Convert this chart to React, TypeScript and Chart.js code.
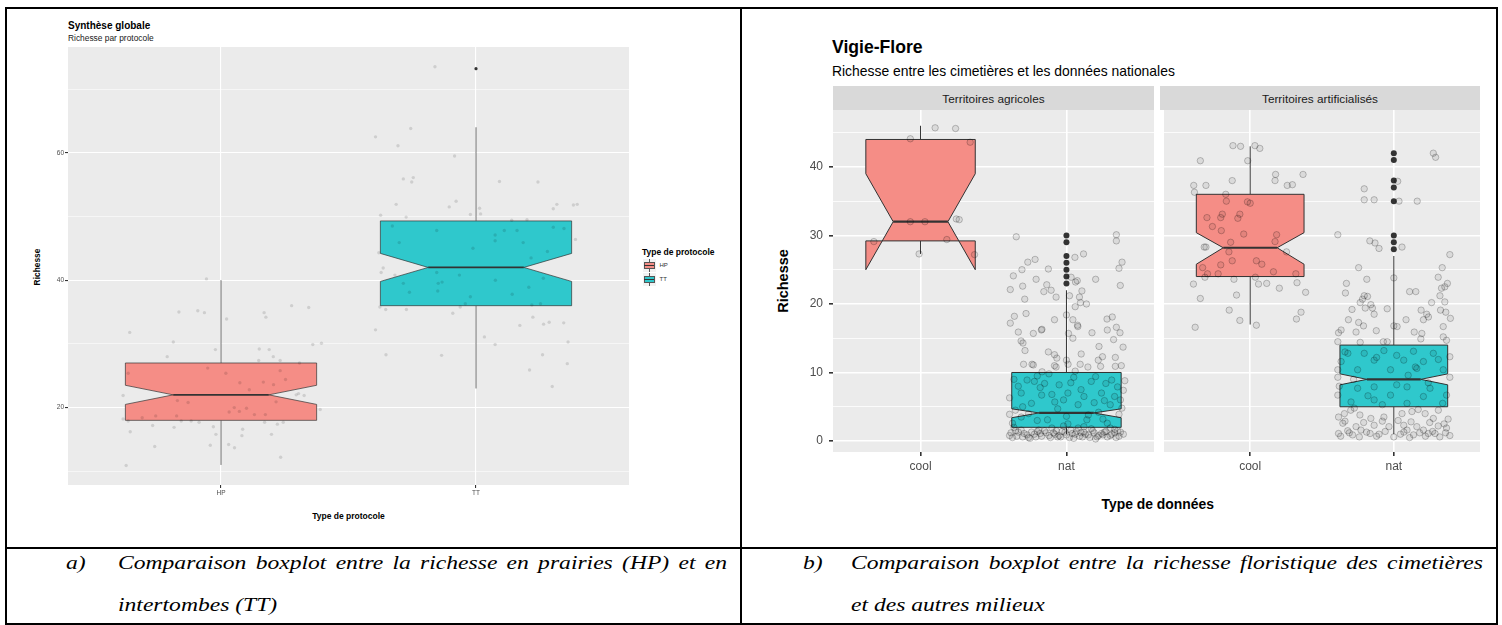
import React, { useEffect, useRef } from "react";
import { Chart, registerables } from "chart.js";

Chart.register(...registerables);

// ---------------- Panel a) : Synthèse globale ----------------
const protocolCategories = ["HP", "TT"];
const protocolYGrid = [10, 20, 30, 40, 50, 60, 70];
const protocolYLabels = [20, 40, 60];
// [whisker low, Q1, notch low, median, notch high, Q3, whisker high]
const hpBoxStats = [11, 18, 20.5, 22, 23.5, 27, 40];
const ttBoxStats = [23, 36, 39.8, 42, 44.2, 49.3, 64];
const hpOutliers: number[] = [];
const ttOutliers = [73.2];
// jitter points: [offset from category, richesse]
const hpJitter = [
  [-0.057, 40.2], [-0.165, 35.0], [-0.091, 35.2], [-0.065, 34.9], [0.022, 33.9], [0.169, 34.9],
  [0.176, 34.2], [0.277, 36.0], [0.344, 35.7], [-0.358, 31.8], [-0.187, 30.3], [-0.022, 29.1],
  [-0.211, 28.0], [0.15, 29.2], [0.189, 29.1], [0.205, 28.0], [0.36, 29.9], [0.394, 30.1],
  [0.148, 27.4], [0.232, 27.4], [0.308, 27.0], [-0.052, 26.2], [0.019, 25.4], [0.232, 25.8],
  [0.074, 23.9], [0.166, 24.0], [0.206, 23.6], [0.253, 24.4], [0.111, 22.8], [-0.364, 25.4],
  [-0.384, 21.9], [0.295, 22.0], [0.304, 22.2], [0.326, 21.9], [-0.171, 21.1], [-0.129, 20.8],
  [0.216, 20.9], [0.052, 20.0], [0.1, 19.9], [0.032, 19.3], [0.072, 19.4], [0.389, 19.7],
  [0.131, 18.9], [0.174, 18.9], [-0.256, 18.7], [-0.174, 18.7], [-0.384, 18.2], [-0.364, 17.9],
  [-0.309, 18.4], [-0.156, 17.9], [-0.117, 17.9], [-0.086, 17.7], [0.171, 17.7], [0.221, 17.4],
  [0.244, 17.7], [-0.268, 17.2], [-0.184, 16.9], [-0.03, 17.0], [-0.356, 16.2], [-0.02, 15.8],
  [0.085, 16.6], [0.082, 15.6], [0.198, 15.8], [-0.26, 13.9], [-0.042, 14.1], [0.03, 14.2],
  [0.053, 13.7], [0.234, 12.2], [-0.372, 10.9],
];
const ttJitter = [
  [-0.161, 73.5], [-0.256, 63.8], [-0.394, 62.5], [-0.306, 61.1], [-0.084, 59.5], [-0.285, 55.9],
  [-0.246, 56.1], [-0.252, 55.4], [0.092, 55.5], [0.243, 55.4], [-0.313, 51.9], [-0.078, 52.4],
  [-0.105, 51.5], [0.014, 51.3], [0.018, 50.4], [-0.022, 50.3], [0.317, 51.9], [0.303, 51.2],
  [0.382, 51.8], [0.397, 51.9], [-0.374, 50.2], [-0.274, 49.9], [0.14, 49.4], [0.2, 49.5],
  [-0.328, 48.5], [-0.154, 47.8], [0.075, 47.1], [0.075, 46.2], [0.111, 47.8], [0.161, 47.8],
  [0.185, 45.9], [0.303, 48.3], [0.345, 48.1], [0.39, 46.4], [-0.301, 45.9], [-0.012, 45.0],
  [0.28, 44.5], [0.216, 43.5], [-0.381, 44.3], [-0.364, 41.9], [-0.372, 41.2], [-0.318, 40.8],
  [-0.154, 41.2], [-0.065, 40.8], [-0.148, 39.5], [-0.133, 39.7], [-0.285, 39.5], [-0.15, 38.3],
  [-0.261, 38.1], [0.076, 40.0], [0.142, 37.8], [0.207, 38.9], [0.264, 40.3], [-0.022, 37.4],
  [-0.042, 36.3], [-0.377, 35.8], [-0.354, 35.4], [-0.273, 35.4], [-0.062, 35.8], [0.219, 36.1],
  [0.253, 36.3], [-0.394, 32.2], [-0.091, 34.8], [0.033, 31.1], [0.075, 29.9], [0.172, 32.9],
  [0.223, 34.2], [0.265, 33.1], [0.287, 33.4], [0.344, 33.3], [0.361, 30.3], [-0.353, 28.3],
  [-0.135, 28.2], [0.261, 28.3], [0.358, 26.9], [0.21, 25.9], [0.299, 23.3],
];

// ---------------- Panel b) : Vigie-Flore ----------------
const dataTypeCategories = ["cool", "nat"];
const facetNames = ["Territoires agricoles", "Territoires artificialisés"];
const vigieYGrid = [0, 5, 10, 15, 20, 25, 30, 35, 40, 45];
const vigieYLabels = [0, 10, 20, 30, 40];
const agriCoolBoxStats = [27.3, 29.2, 25.0, 32.0, 39.0, 44.0, 46.0];
const agriNatBoxStats = [1, 2, 3.4, 4.1, 4.7, 10, 22];
const artCoolBoxStats = [17, 24, 25.8, 28.2, 30.4, 36, 43];
const artNatBoxStats = [1, 5, 8.2, 9, 9.8, 14, 27];
const agriCoolOutliers: number[] = [];
const agriNatOutliers = [23, 24, 25, 26, 27, 29, 30];
const artCoolOutliers: number[] = [];
const artNatOutliers = [28, 29, 30, 35, 37, 38, 41, 42];
const agriCoolJitter = [
  [0.1, 45.7], [0.24, 45.6], [-0.07, 44.1], [0.34, 43.6], [0.245, 32.4], [0.265, 32.3],
  [-0.07, 32.0], [0.03, 32.0], [-0.01, 27.3], [0.18, 29.4], [-0.32, 29.1], [0.37, 27.2],
];
const agriNatJitter = [
  [-0.344, 29.8], [0.342, 30.1], [0.342, 29.2], [0.117, 27.3], [0.058, 26.8], [-0.215, 26.5],
  [-0.265, 26.1], [0.381, 26.1], [-0.364, 24.1], [-0.305, 25.0], [-0.124, 25.1], [0.36, 25.2],
  [-0.208, 23.6], [0.032, 23.9], [0.062, 23.2], [0.074, 23.4], [0.2, 23.6], [0.369, 22.7],
  [-0.385, 22.1], [-0.3, 22.6], [-0.135, 22.8], [-0.155, 21.8], [-0.105, 22.0], [-0.071, 21.0],
  [0.021, 21.2], [0.106, 21.9], [0.089, 21.0], [0.096, 20.2], [0.06, 19.6], [0.137, 20.0],
  [-0.286, 20.7], [-0.357, 18.2], [-0.385, 17.2], [-0.277, 18.6], [-0.082, 17.7], [0, 18.4],
  [0.044, 17.7], [0.076, 16.9], [0.078, 16.7], [0.278, 17.8], [0.314, 18.1], [0.342, 16.6],
  [0.367, 15.8], [0.28, 16.2], [-0.33, 15.9], [-0.227, 15.7], [-0.172, 16.2], [-0.168, 16.3],
  [0.014, 15.7], [0.044, 15.0], [0.175, 15.8], [0.323, 14.8], [-0.311, 14.6], [-0.298, 14.3],
  [-0.284, 13.2], [0.388, 13.7], [0.223, 13.8], [-0.124, 13.0], [-0.082, 12.6], [-0.066, 12.1],
  [0.101, 12.7], [0, 11.8], [0.218, 11.8], [0.247, 12.3], [0.335, 12.2], [-0.294, 11.2],
  [-0.236, 11.2], [-0.227, 11.1], [-0.082, 11.0], [-0.071, 10.8], [0.011, 11.2], [0.094, 11.2],
  [0.147, 10.8], [0.234, 10.9], [0.335, 10.9], [0.376, 11.0], [-0.167, 10.1], [0.06, 10.2],
  [-0.27, 8.9], [-0.22, 8.7], [-0.15, 8.4], [-0.05, 8.2], [0.17, 8.7], [0.27, 8.4], [0.35, 7.9],
  [-0.31, 7.0], [-0.17, 6.7], [0.01, 7.0], [0.12, 6.5], [0.24, 7.0], [0.33, 6.5], [-0.39, 6.3],
  [0.39, 7.4], [0.4, 8.8], [-0.24, 5.5], [-0.08, 5.7], [0.08, 5.3], [0.19, 5.6], [0.3, 5.3],
  [-0.39, 3.9], [-0.31, 3.5], [-0.13, 3.1], [0.14, 3.1], [0.36, 3.9], [-0.37, 2.6], [0.01, 2.5],
  [0.28, 2.6], [-0.2, 9.5], [0.05, 9.3], [-0.35, 4.5], [0.22, 4.2], [-0.02, 6.0],
  [-0.36, 9.0], [-0.3, 5.0], [-0.26, 4.0], [-0.18, 7.8], [-0.1, 6.8], [-0.06, 4.7], [0.03, 8.5],
  [0.1, 7.5], [0.15, 3.8], [0.2, 9.4], [0.26, 5.9], [0.31, 8.9], [0.37, 6.0], [-0.33, 8.0],
  [-0.2, 3.0], [0.0, 3.6], [0.25, 3.2], [-0.12, 9.8], [0.38, 4.8], [-0.02, 2.2],
  [-0.38, 1.2], [-0.34, 0.7], [-0.31, 1.6], [-0.27, 0.9], [-0.24, 1.3], [-0.21, 0.6],
  [-0.18, 1.1], [-0.15, 1.5], [-0.12, 0.8], [-0.09, 1.2], [-0.06, 0.6], [-0.03, 1.4],
  [0.0, 0.9], [0.03, 1.6], [0.06, 1.0], [0.09, 0.7], [0.12, 1.3], [0.15, 0.9], [0.18, 1.5],
  [0.21, 0.6], [0.24, 1.1], [0.27, 1.4], [0.3, 0.8], [0.33, 1.2], [0.36, 0.7], [0.39, 1.0],
  [-0.36, 2.0], [-0.1, 1.9], [0.12, 2.1], [0.3, 1.9], [-0.25, 0.4], [0.05, 0.4], [0.2, 0.3],
  [-0.29, 1.1], [-0.2, 1.4], [-0.05, 0.8], [0.1, 1.2], [0.25, 0.9], [0.35, 1.5], [-0.37, 0.5],
  [-0.33, 1.3], [-0.26, 0.5], [-0.22, 1.0], [-0.17, 0.7], [-0.14, 1.2], [-0.11, 0.5],
  [-0.08, 1.0], [-0.04, 0.6], [-0.01, 1.3], [0.02, 0.5], [0.04, 1.1], [0.07, 1.4], [0.11, 0.6],
  [0.13, 1.0], [0.16, 0.5], [0.19, 1.2], [0.22, 0.8], [0.26, 1.3], [0.28, 0.6], [0.31, 1.0],
  [0.34, 0.5], [0.37, 1.3], [-0.39, 0.8], [-0.35, 1.5], [-0.3, 0.6], [-0.19, 1.6], [-0.07, 1.5],
  [0.08, 1.9], [0.17, 1.8], [0.33, 1.7],
];
const artCoolJitter = [
  [-0.12, 43.1], [-0.067, 43.0], [0.033, 43.1], [0.067, 42.7], [-0.347, 40.9], [-0.017, 40.9],
  [0.177, 38.9], [0.368, 38.9], [0.173, 38.0], [-0.125, 38.0], [-0.393, 37.3], [-0.308, 37.3],
  [0.258, 37.3], [0.294, 37.4], [-0.388, 36.3], [-0.17, 36.0], [-0.166, 35.0], [-0.019, 34.9],
  [0.0, 34.7], [-0.301, 32.6], [-0.194, 33.1], [-0.205, 32.6], [-0.072, 33.1], [-0.086, 32.5],
  [-0.263, 31.3], [-0.201, 30.7], [-0.045, 30.2], [0.184, 30.1], [0.173, 29.1], [-0.136, 29.0],
  [-0.32, 28.3], [-0.308, 28.3], [0.253, 27.6], [-0.148, 27.6], [-0.125, 26.3], [0.043, 26.3],
  [0.081, 25.8], [-0.205, 25.7], [-0.331, 25.3], [0.162, 24.7], [-0.297, 24.4], [-0.223, 24.4],
  [0.318, 24.4], [-0.315, 23.9], [-0.113, 23.6], [0.036, 23.9], [-0.395, 22.9], [0.058, 22.9],
  [0.115, 23.0], [0.203, 22.3], [0.326, 23.1], [0.386, 21.7], [-0.347, 20.8], [-0.095, 21.3],
  [-0.146, 19.1], [-0.072, 17.6], [0.043, 16.9], [-0.383, 16.6], [0.322, 17.8], [0.354, 18.8],
];
const artNatJitter = [
  [0.275, 42.0], [0.291, 41.4], [0.027, 37.9], [-0.206, 36.8], [-0.206, 35.2], [-0.137, 35.2],
  [0.036, 35.0], [0.163, 35.0], [-0.39, 30.1], [-0.167, 29.2], [-0.131, 28.9], [-0.103, 28.1],
  [0.057, 28.3], [0.39, 27.2], [0.337, 25.3], [-0.245, 25.3], [0, 23.8], [-0.188, 23.6],
  [0.309, 23.9], [-0.33, 23.0], [0.373, 23.0], [0.355, 22.5], [0.332, 22.3], [-0.337, 21.6],
  [0.11, 21.8], [0.153, 21.8], [-0.206, 21.2], [-0.183, 21.1], [0.321, 21.2], [-0.218, 20.7],
  [-0.234, 20.2], [0.263, 20.2], [0.355, 20.3], [-0.16, 19.9], [-0.149, 19.4], [-0.291, 19.2],
  [-0.199, 19.4], [-0.046, 19.3], [0.19, 19.1], [0.325, 19.1], [0.362, 18.8], [-0.137, 18.5],
  [0.229, 18.5], [0.241, 18.1], [0.206, 17.7], [-0.316, 17.7], [0.085, 17.7], [0.394, 17.9],
  [-0.245, 17.3], [-0.211, 16.8], [0, 16.8], [0.023, 16.7], [0.344, 16.7], [-0.367, 16.2],
  [-0.122, 16.1], [-0.263, 15.9], [-0.385, 15.8], [0.142, 15.9], [0.195, 15.7], [-0.073, 14.5],
  [-0.046, 14.5], [0.188, 14.9], [0.344, 15.2], [0.367, 14.7], [-0.39, 14.5], [-0.234, 14.4],
  [-0.32, 12.8], [-0.206, 12.8], [-0.069, 13.2], [0.137, 13.1], [0.275, 12.8], [0.39, 12.3],
  [-0.367, 11.6], [-0.137, 11.8], [0.069, 11.8], [0.206, 11.6], [-0.39, 10.4], [-0.252, 10.4],
  [-0.023, 10.4], [0.16, 10.6], [0.344, 10.4], [0.39, 9.3], [-0.39, 9.3], [-0.137, 7.9],
  [-0.252, 7.7], [0.092, 7.9], [0.252, 7.7], [-0.39, 6.7], [-0.023, 6.7], [0.206, 6.5],
  [0.367, 6.7], [-0.298, 5.7], [0.092, 5.5], [-0.137, 6.0], [-0.275, 4.8], [-0.385, 3.5],
  [-0.344, 4.0], [-0.236, 3.8], [-0.16, 3.3], [-0.069, 3.5], [0.057, 4.0], [0.126, 4.3],
  [0.218, 4.0], [0.275, 3.3], [0.378, 3.2], [-0.355, 2.6], [-0.263, 2.1], [-0.137, 2.3],
  [-0.034, 2.1], [0.069, 2.3], [0.16, 2.1], [0.309, 2.2], [-0.385, 1.1], [-0.287, 0.9],
  [-0.165, 1.1], [-0.103, 1.0], [0.046, 1.0], [0.137, 0.9], [0.24, 1.1], [0.287, 1.1],
  [-0.229, 1.6], [0.092, 1.6], [0.206, 1.6], [0.367, 1.9], [-0.321, 1.5],
  [-0.37, 0.7], [-0.31, 1.2], [-0.24, 0.6], [-0.19, 1.3], [-0.12, 0.7], [-0.06, 1.4], [0.0, 0.6],
  [0.07, 1.3], [0.11, 0.5], [0.18, 1.2], [0.22, 0.7], [0.27, 1.4], [0.32, 0.6], [0.36, 1.2],
  [0.39, 0.8], [-0.34, 2.9], [-0.21, 2.7], [-0.08, 2.9], [0.03, 3.0], [0.12, 2.8], [0.25, 2.7],
  [0.35, 2.5], [-0.3, 4.5], [0.17, 4.6], [0.31, 4.5], [-0.34, 13.0], [-0.12, 12.2], [0.02, 12.5],
  [0.31, 11.9], [-0.28, 9.0], [0.1, 9.6], [0.24, 8.5], [-0.18, 6.6], [0.02, 8.2], [0.34, 5.5],
  [-0.38, 8.0], [0.15, 10.8], [-0.08, 5.3],
];

const RED = "#F58D86";
const TEAL = "#2FC8CC";

type BoxSpec = { cat: number; stats: number[]; outliers: number[]; fill: string };
type PanelStyle = {
  tickFont: number; tl: number; xPad: number; yPad: number; yw: number; xh: number;
  major: number; minor: number; boxLw: number; medLw: number; outR: number;
  ptR: number; ptFill: string; ptBorder: string; ptBw: number;
};

function BoxPanel(props: {
  x: number; y: number; w: number; h: number;
  yMin: number; yMax: number; yGrid: number[]; yLabels: number[]; showY: boolean;
  xLabels: string[]; boxes: BoxSpec[]; jitters: { cat: number; pts: number[][] }[];
  s: PanelStyle;
}) {
  const ref = useRef<HTMLCanvasElement>(null);
  const { x, y, w, h, s } = props;
  const padTop = 24;
  const padRight = 12;
  const yw = props.showY ? s.yw : 0;
  const cw = yw + w + padRight;
  const ch = padTop + h + s.xh;

  useEffect(() => {
    if (!ref.current) return;
    const boxPlugin = {
      id: "boxes",
      beforeDraw(chart: any) {
        const { ctx, chartArea: a } = chart;
        ctx.save();
        ctx.fillStyle = "#EBEBEB";
        ctx.fillRect(a.left, a.top, a.right - a.left, a.bottom - a.top);
        ctx.restore();
      },
      beforeDatasetsDraw(chart: any) {
        const { ctx } = chart;
        const xs = chart.scales.x;
        const ys = chart.scales.y;
        ctx.save();
        for (const b of props.boxes) {
          const [wl, q1, nl, med, nh, q3, wh] = b.stats;
          const cx = xs.getPixelForValue(b.cat);
          const x0 = xs.getPixelForValue(b.cat - 0.375);
          const x1 = xs.getPixelForValue(b.cat + 0.375);
          const ind = (x1 - x0) / 4;
          const Y = (v: number) => ys.getPixelForValue(v);
          ctx.strokeStyle = "#333333";
          ctx.lineWidth = s.boxLw;
          ctx.beginPath();
          ctx.moveTo(cx, Y(q3));
          ctx.lineTo(cx, Y(wh));
          ctx.moveTo(cx, Y(q1));
          ctx.lineTo(cx, Y(wl));
          ctx.stroke();
          ctx.beginPath();
          ctx.moveTo(x0, Y(q3));
          ctx.lineTo(x0, Y(nh));
          ctx.lineTo(x0 + ind, Y(med));
          ctx.lineTo(x0, Y(nl));
          ctx.lineTo(x0, Y(q1));
          ctx.lineTo(x1, Y(q1));
          ctx.lineTo(x1, Y(nl));
          ctx.lineTo(x1 - ind, Y(med));
          ctx.lineTo(x1, Y(nh));
          ctx.lineTo(x1, Y(q3));
          ctx.closePath();
          ctx.fillStyle = b.fill;
          ctx.fill();
          ctx.stroke();
          ctx.lineWidth = s.medLw;
          ctx.beginPath();
          ctx.moveTo(x0 + ind, Y(med));
          ctx.lineTo(x1 - ind, Y(med));
          ctx.stroke();
          ctx.fillStyle = "#333333";
          for (const o of b.outliers) {
            ctx.beginPath();
            ctx.arc(cx, Y(o), s.outR, 0, Math.PI * 2);
            ctx.fill();
          }
        }
        ctx.restore();
      },
    };

    const chart = new Chart(ref.current, {
      type: "scatter",
      data: {
        datasets: props.jitters.map((j) => ({
          data: j.pts.map((p) => ({ x: j.cat + p[0], y: p[1] })),
          pointRadius: s.ptR,
          pointHoverRadius: s.ptR,
          backgroundColor: s.ptFill,
          borderColor: s.ptBorder,
          borderWidth: s.ptBw,
        })),
      },
      options: {
        animation: false,
        responsive: false,
        maintainAspectRatio: false,
        events: [],
        layout: { padding: { top: padTop, right: padRight, left: 0, bottom: 0 } },
        plugins: { legend: { display: false }, tooltip: { enabled: false }, title: { display: false } },
        scales: {
          x: {
            type: "linear",
            min: 0.4,
            max: 2.6,
            afterBuildTicks: (sc: any) => {
              sc.ticks = props.xLabels.map((_, i) => ({ value: i + 1 }));
            },
            afterFit: (sc: any) => {
              sc.height = s.xh;
            },
            ticks: {
              autoSkip: false,
              maxRotation: 0,
              padding: s.xPad,
              color: "#4D4D4D",
              font: { family: "'Liberation Sans', Arial, sans-serif", size: s.tickFont },
              callback: (v: any) => props.xLabels[Math.round(Number(v)) - 1] ?? "",
            },
            grid: { color: "#FFFFFF", lineWidth: s.major, tickColor: "#333333", tickLength: s.tl },
            border: { display: false },
          },
          y: {
            type: "linear",
            min: props.yMin,
            max: props.yMax,
            afterBuildTicks: (sc: any) => {
              sc.ticks = props.yGrid.map((v) => ({ value: v }));
            },
            afterFit: (sc: any) => {
              sc.width = yw;
            },
            ticks: {
              display: props.showY,
              autoSkip: false,
              padding: s.yPad,
              color: "#4D4D4D",
              font: { family: "'Liberation Sans', Arial, sans-serif", size: s.tickFont },
              callback: (v: any) => (props.yLabels.includes(Number(v)) ? String(v) : ""),
            },
            grid: {
              color: "#FFFFFF",
              lineWidth: (c: any) => (props.yLabels.includes(c.tick?.value) ? s.major : s.minor),
              tickColor: (c: any) => (props.yLabels.includes(c.tick?.value) ? "#333333" : "rgba(0,0,0,0)"),
              tickLength: s.tl,
              drawTicks: props.showY,
            },
            border: { display: false },
          },
        },
      } as any,
      plugins: [boxPlugin],
    });
    return () => chart.destroy();
  }, []);

  return (
    <canvas
      ref={ref}
      width={cw}
      height={ch}
      style={{ position: "absolute", left: x - yw, top: y - padTop, width: cw, height: ch }}
    />
  );
}

function Txt(props: {
  x: number; y: number; size: number; bold?: boolean; color?: string; italic?: boolean;
  align?: "left" | "center"; rotate?: boolean; family?: string; children: React.ReactNode;
}) {
  const { x, y, size } = props;
  const base: React.CSSProperties = {
    position: "absolute",
    whiteSpace: "nowrap",
    fontSize: size,
    lineHeight: `${size}px`,
    fontWeight: props.bold ? "bold" : "normal",
    fontStyle: props.italic ? "italic" : "normal",
    color: props.color ?? "#000",
    fontFamily: props.family ?? "'Liberation Sans', Arial, sans-serif",
  };
  if (props.rotate) {
    return (
      <div style={{ ...base, left: x, top: y, transform: "translate(-50%, -50%) rotate(-90deg)" }}>
        {props.children}
      </div>
    );
  }
  // y is the baseline
  const top = y - 0.8465 * size;
  return (
    <div
      style={{
        ...base,
        left: x,
        top,
        transform: props.align === "center" ? "translateX(-50%)" : undefined,
      }}
    >
      {props.children}
    </div>
  );
}

function LegendKey(props: { x: number; y: number; fill: string }) {
  const { x, y, fill } = props;
  return (
    <div style={{ position: "absolute", left: x, top: y, width: 13, height: 13, background: "#F2F2F2" }}>
      <div style={{ position: "absolute", left: 6, top: 0, width: 1, height: 13, background: "#555" }} />
      <div
        style={{
          position: "absolute", left: 1, top: 3, width: 9.5, height: 5.5, background: fill,
          border: "0.8px solid #555",
        }}
      />
      <div style={{ position: "absolute", left: 1.5, top: 6, width: 10, height: 1.2, background: "#333" }} />
    </div>
  );
}

const line = (l: number, t: number, w: number, h: number) => (
  <div style={{ position: "absolute", left: l, top: t, width: w, height: h, background: "#000" }} />
);

const CAP_SCALE = 1.31;

function CaptionLine(props: { x: number; top: number; width?: number; children: React.ReactNode }) {
  const justify = props.width !== undefined;
  return (
    <div
      style={{
        position: "absolute",
        left: props.x,
        top: props.top,
        width: justify ? props.width! / CAP_SCALE : undefined,
        fontFamily: "'Liberation Serif', 'Times New Roman', serif",
        fontStyle: "italic",
        fontSize: 18,
        lineHeight: "18px",
        whiteSpace: justify ? "normal" : "nowrap",
        textAlign: justify ? "justify" : "left",
        textAlignLast: justify ? "justify" : "auto",
        transform: `scaleX(${CAP_SCALE})`,
        transformOrigin: "0 0",
        color: "#000",
      } as React.CSSProperties}
    >
      {props.children}
    </div>
  );
}

export default function App() {
  useEffect(() => {
    document.body.style.margin = "0";
  }, []);

  const leftStyle: PanelStyle = {
    tickFont: 6.5, tl: 3, xPad: 1, yPad: 1, yw: 22, xh: 14, major: 1.1, minor: 0.55,
    boxLw: 0.7, medLw: 1.8, outR: 1.6, ptR: 1.7, ptFill: "rgba(0,0,0,0.12)",
    ptBorder: "rgba(0,0,0,0.12)", ptBw: 0,
  };
  const rightStyle: PanelStyle = {
    tickFont: 12, tl: 4, xPad: 3, yPad: 6, yw: 40, xh: 30, major: 1.6, minor: 0.8,
    boxLw: 1, medLw: 2.2, outR: 3, ptR: 3.2, ptFill: "rgba(0,0,0,0.07)",
    ptBorder: "rgba(0,0,0,0.28)", ptBw: 0.8,
  };

  return (
    <div
      style={{
        position: "absolute", left: 0, top: 0, width: 1502, height: 625,
        background: "#fff", overflow: "hidden",
      }}
    >
      {/* table frame */}
      {line(5, 7, 1493, 2)}
      {line(5, 7, 2, 620)}
      {line(1496, 7, 2, 620)}
      {line(740, 7, 2, 620)}
      {line(5, 547, 1493, 2)}
      {line(5, 623, 1493, 2)}

      {/* ---- panel a ---- */}
      <Txt x={68} y={29} size={10} bold color="#000">Synthèse globale</Txt>
      <Txt x={68} y={41.5} size={8.4} color="#1A1A1A">Richesse par protocole</Txt>
      <BoxPanel
        x={68} y={47} w={561} h={438}
        yMin={7.85} yMax={76.6} yGrid={protocolYGrid} yLabels={protocolYLabels} showY
        xLabels={protocolCategories}
        boxes={[
          { cat: 1, stats: hpBoxStats, outliers: hpOutliers, fill: RED },
          { cat: 2, stats: ttBoxStats, outliers: ttOutliers, fill: TEAL },
        ]}
        jitters={[
          { cat: 1, pts: hpJitter },
          { cat: 2, pts: ttJitter },
        ]}
        s={leftStyle}
      />
      <Txt x={37} y={267} size={8.4} bold rotate>Richesse</Txt>
      <Txt x={348.5} y={518.7} size={8.5} bold align="center">Type de protocole</Txt>
      <Txt x={642} y={255} size={8.5} bold>Type de protocole</Txt>
      <LegendKey x={642.5} y={258.5} fill={RED} />
      <LegendKey x={642.5} y={272.5} fill={TEAL} />
      <Txt x={659.5} y={267.2} size={6} color="#333">{protocolCategories[0]}</Txt>
      <Txt x={659.5} y={281.2} size={6} color="#333">{protocolCategories[1]}</Txt>

      {/* ---- panel b ---- */}
      <Txt x={832} y={53.6} size={17.6} bold>Vigie-Flore</Txt>
      <Txt x={832} y={76.8} size={13.9} color="#000">Richesse entre les cimetières et les données nationales</Txt>
      <div style={{ position: "absolute", left: 833, top: 86, width: 321, height: 24, background: "#D9D9D9" }} />
      <div style={{ position: "absolute", left: 1160, top: 86, width: 320, height: 24, background: "#D9D9D9" }} />
      <Txt x={993.5} y={103.6} size={11.8} color="#1A1A1A" align="center">{facetNames[0]}</Txt>
      <Txt x={1320} y={103.6} size={11.8} color="#1A1A1A" align="center">{facetNames[1]}</Txt>
      <BoxPanel
        x={833} y={110} w={321} h={342}
        yMin={-1.6} yMax={48.3} yGrid={vigieYGrid} yLabels={vigieYLabels} showY
        xLabels={dataTypeCategories}
        boxes={[
          { cat: 1, stats: agriCoolBoxStats, outliers: agriCoolOutliers, fill: RED },
          { cat: 2, stats: agriNatBoxStats, outliers: agriNatOutliers, fill: TEAL },
        ]}
        jitters={[
          { cat: 1, pts: agriCoolJitter },
          { cat: 2, pts: agriNatJitter },
        ]}
        s={rightStyle}
      />
      <BoxPanel
        x={1160} y={110} w={320} h={342}
        yMin={-1.6} yMax={48.3} yGrid={vigieYGrid} yLabels={vigieYLabels} showY={false}
        xLabels={dataTypeCategories}
        boxes={[
          { cat: 1, stats: artCoolBoxStats, outliers: artCoolOutliers, fill: RED },
          { cat: 2, stats: artNatBoxStats, outliers: artNatOutliers, fill: TEAL },
        ]}
        jitters={[
          { cat: 1, pts: artCoolJitter },
          { cat: 2, pts: artNatJitter },
        ]}
        s={rightStyle}
      />
      <Txt x={783} y={280.5} size={14.5} bold rotate>Richesse</Txt>
      <Txt x={1157.7} y={509.7} size={13.9} bold align="center">Type de données</Txt>

      {/* ---- captions ---- */}
      <CaptionLine x={66} top={554}>a)</CaptionLine>
      <CaptionLine x={118} top={554} width={609}>
        Comparaison boxplot entre la richesse en prairies (HP) et en
      </CaptionLine>
      <CaptionLine x={118} top={596}>intertombes (TT)</CaptionLine>
      <CaptionLine x={803} top={554}>b)</CaptionLine>
      <CaptionLine x={851} top={554} width={632}>
        Comparaison boxplot entre la richesse floristique des cimetières
      </CaptionLine>
      <CaptionLine x={851} top={596}>et des autres milieux</CaptionLine>
    </div>
  );
}
